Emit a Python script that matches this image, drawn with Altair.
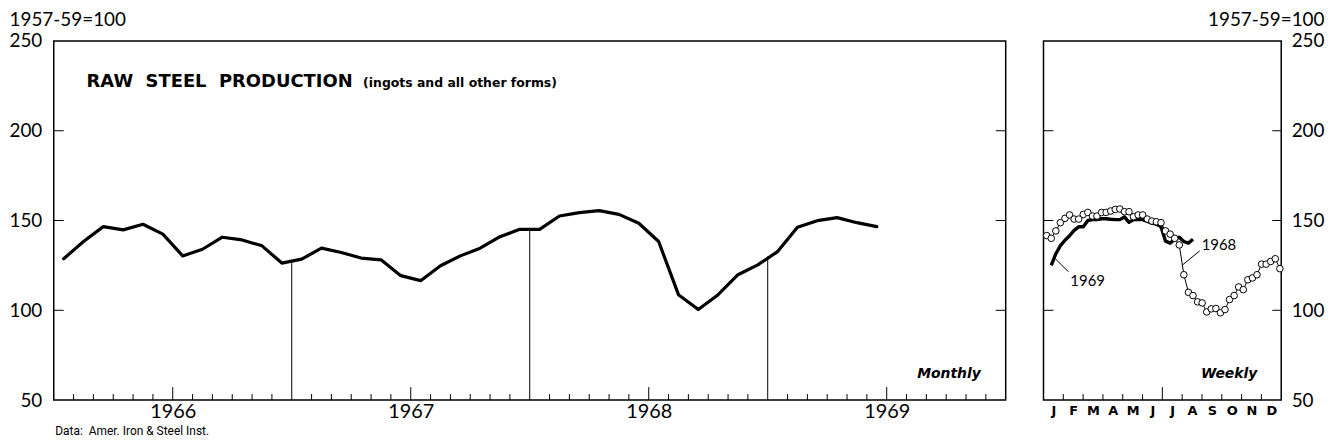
import altair as alt
import pandas as pd

FONT = "Lato"
BOLD = "DejaVu Sans"

# ---------------- data ----------------
years = [1966, 1967, 1968, 1969]
month_letters = ["J", "F", "M", "A", "M", "J", "J", "A", "S", "O", "N", "D"]

# Monthly index (1957-59 = 100), Jan 1966 .. Jun 1969
monthly_index = [
    128.7, 138.3, 146.6, 144.8, 147.9, 142.4, 130.3, 134.0, 140.7, 139.2, 135.9, 126.3,  # 1966
    128.5, 134.6, 132.2, 129.1, 128.1, 119.3, 116.5, 124.8, 130.3, 134.6, 141.0, 145.1,  # 1967
    145.1, 152.5, 154.4, 155.5, 153.4, 148.5, 138.3, 108.7, 100.4, 108.7, 119.8, 125.3,  # 1968
    132.7, 146.2, 149.9, 151.6, 148.8, 146.6,                                            # 1969
]
# year-start drop lines (January 1 of each year)
drop_year = [1967, 1968, 1969]
drop_top = [127.2, 145.1, 130.0]

# Weekly index
week_1968 = list(range(1, 53))
weekly_1968 = [
    141.6, 140.1, 144.2, 148.8, 151.2, 153.1, 150.8, 150.8, 153.4, 154.5,
    152.5, 152.5, 154.5, 154.5, 155.3, 156.2, 156.4, 154.9, 154.9, 152.1,
    153.1, 153.1, 150.8, 149.7, 149.3, 148.8, 144.2, 142.4, 140.1, 136.4,
    119.8, 110.0, 108.2, 104.7, 104.1, 99.1, 100.8, 101.0, 98.6, 100.4,
    106.0, 108.2, 113.0, 111.5, 117.0, 118.0, 119.8, 125.7, 125.7, 127.2,
    128.7, 123.2,
]
week_1969 = list(range(2, 34))
weekly_1969 = [
    125.0, 131.5, 136.0, 139.0, 141.5, 144.5, 146.5, 146.5, 150.0, 150.5,
    150.5, 151.0, 151.0, 150.7, 150.5, 150.5, 152.0, 149.0, 150.5, 150.5,
    150.5, 149.5, 148.5, 148.0, 146.5, 138.5, 137.4, 139.6, 140.7, 138.3,
    137.4, 139.6,
]

y_values = [50, 100, 150, 200, 250]
inner_y_ticks = [100, 150, 200]

# ---------------- layout ----------------
W1, W2, H = 957, 239, 361
Y0, Y1 = 50, 250
WEEK_OFFSET = 0.3  # weekly x-domain start (weeks)
NB = "\u00a0"

monthly_df = pd.DataFrame({
    "month": [f"{years[i // 12]}-{i % 12 + 1:02d}" for i in range(len(monthly_index))],
    "t": [i + 0.5 for i in range(len(monthly_index))],
    "v": monthly_index,
})
drop_df = pd.DataFrame({
    "t": [(y - years[0]) * 12 for y in drop_year],
    "v": [Y0] * len(drop_year),
    "top": drop_top,
})
mticks = [k for k in range(1, 48) if k % 12 != 0]
small_mt = pd.DataFrame({"t": [k for k in mticks if k % 12 != 6]})
tall_mt = pd.DataFrame({"t": [k for k in mticks if k % 12 == 6]})
yt_df = pd.DataFrame({"v": inner_y_ticks})

yscale = alt.Scale(domain=[Y0, Y1], nice=False, zero=False)
xs1 = alt.Scale(domain=[0, 48], nice=False, zero=False)

left_y_axis = alt.Axis(
    values=y_values, ticks=False, domain=False, grid=False,
    labelFontSize=19, labelPadding=12, labelFont=FONT, labelColor="black",
    title="1957-59=100", titleAngle=0, titleX=-45, titleY=-16,
    titleAlign="left", titleBaseline="alphabetic", titleFontSize=19,
    titleFontWeight="normal", titleFont=FONT, titleColor="black",
)
left_x_axis = alt.Axis(
    values=[6, 18, 30, 42], labelExpr="1966 + floor(datum.value / 12)",
    ticks=False, domain=False, grid=False, labelFontSize=20, labelPadding=2,
    labelFont=FONT, labelColor="black",
    title="Data:" + NB + NB + "Amer. Iron & Steel Inst.", titleX=1, titleY=35,
    titleAlign="left", titleBaseline="alphabetic", titleFontSize=12,
    titleFontWeight="normal", titleFont="Roboto", titleColor="black",
)

X1 = alt.X("t:Q", scale=xs1, axis=left_x_axis)
Yv1 = alt.Y("v:Q", scale=yscale, axis=left_y_axis)

line1 = alt.Chart(monthly_df).mark_line(
    color="black", strokeWidth=3.2, strokeJoin="round", strokeCap="round"
).encode(x=X1, y=Yv1)
drops = alt.Chart(drop_df).mark_rule(color="black", strokeWidth=1).encode(
    x=X1, y=Yv1, y2=alt.Y2("top:Q"),
)
st1 = alt.Chart(small_mt).mark_rule(color="black", strokeWidth=1).encode(
    x=X1, y=alt.value(H), y2=alt.value(H - 6))
tt1 = alt.Chart(tall_mt).mark_rule(color="black", strokeWidth=1).encode(
    x=X1, y=alt.value(H), y2=alt.value(H - 13))
ylt1 = alt.Chart(yt_df).mark_rule(color="black", strokeWidth=1).encode(
    y=Yv1, x=alt.value(0), x2=alt.value(10))
yrt1 = alt.Chart(yt_df).mark_rule(color="black", strokeWidth=1).encode(
    y=Yv1, x=alt.value(W1 - 10), x2=alt.value(W1))

def label(text, x, y, size, weight="bold", style="normal", font=BOLD, align="left"):
    return alt.Chart(pd.DataFrame({"txt": [text]})).mark_text(
        align=align, baseline="middle", fontSize=size, fontWeight=weight,
        fontStyle=style, font=font, color="black",
    ).encode(text="txt:N", x=alt.value(x), y=alt.value(y))

title1 = label("RAW" + NB + NB + "STEEL" + NB + NB + "PRODUCTION", 33, 41, 18)
title2 = label("(ingots and all other forms)", 311, 42, 12.5)
monthly_lbl = label("Monthly", 932, 335, 14, style="italic", align="right")

left = alt.layer(
    line1, drops, st1, tt1, ylt1, yrt1, title1, title2, monthly_lbl
).properties(width=W1, height=H)

# ---------------- weekly panel ----------------
xs2 = alt.Scale(domain=[WEEK_OFFSET, 52 + WEEK_OFFSET], nice=False, zero=False)
w68 = pd.DataFrame({"week": week_1968, "v": weekly_1968})
w69 = pd.DataFrame({"week": week_1969, "v": weekly_1969})
mb = [WEEK_OFFSET + 52 * k / 12 for k in range(1, 12)]
small_wt = pd.DataFrame({"week": [b for k, b in enumerate(mb, 1) if k != 6]})
tall_wt = pd.DataFrame({"week": [b for k, b in enumerate(mb, 1) if k == 6]})
mid_months = [WEEK_OFFSET + 52 * (k + 0.5) / 12 for k in range(12)]

right_y_axis = alt.Axis(
    orient="right", values=y_values, ticks=False, domain=False, grid=False,
    labelFontSize=19, labelPadding=10, labelFont=FONT, labelColor="black",
    title="1957-59=100", titleAngle=0, titleX=43, titleY=-16,
    titleAlign="right", titleBaseline="alphabetic", titleFontSize=19,
    titleFontWeight="normal", titleFont=FONT, titleColor="black",
)
week_x_axis = alt.Axis(
    values=mid_months,
    labelExpr="['J','F','M','A','M','J','J','A','S','O','N','D'][floor((datum.value - %s) * 12 / 52)]" % WEEK_OFFSET,
    ticks=False, domain=False, grid=False, labelFontSize=13, labelFontWeight="bold",
    labelFont=BOLD, labelPadding=5, labelColor="black", title=None,
)

X2 = alt.X("week:Q", scale=xs2, axis=week_x_axis)
Yv2 = alt.Y("v:Q", scale=yscale, axis=right_y_axis)

l68 = alt.Chart(w68).mark_line(color="black", strokeWidth=1).encode(x=X2, y=Yv2)
l69 = alt.Chart(w69).mark_line(
    color="black", strokeWidth=3.4, strokeJoin="round", strokeCap="butt"
).encode(x=X2, y=Yv2)
p68 = alt.Chart(w68).mark_point(
    shape="circle", filled=True, fill="white", stroke="black", strokeWidth=1,
    size=44, opacity=1,
).encode(x=X2, y=Yv2)
st2 = alt.Chart(small_wt).mark_rule(color="black", strokeWidth=1).encode(
    x=X2, y=alt.value(H), y2=alt.value(H - 6))
tt2 = alt.Chart(tall_wt).mark_rule(color="black", strokeWidth=1).encode(
    x=X2, y=alt.value(H), y2=alt.value(H - 13))
ylt2 = alt.Chart(yt_df).mark_rule(color="black", strokeWidth=1).encode(
    y=Yv2, x=alt.value(0), x2=alt.value(10))
yrt2 = alt.Chart(yt_df).mark_rule(color="black", strokeWidth=1).encode(
    y=Yv2, x=alt.value(W2 - 9), x2=alt.value(W2))

lbl68 = label("1968", 159, 205, 15, weight="normal", font=FONT)
lead68 = alt.Chart(pd.DataFrame({"a": [0]})).mark_rule(color="black", strokeWidth=1).encode(
    x=alt.value(157), x2=alt.value(140), y=alt.value(211), y2=alt.value(225))
lbl69 = label("1969", 27, 241, 15, weight="normal", font=FONT)
lead69 = alt.Chart(pd.DataFrame({"a": [0]})).mark_rule(color="black", strokeWidth=1).encode(
    x=alt.value(25), x2=alt.value(12), y=alt.value(232), y2=alt.value(219))
weekly_lbl = label("Weekly", 215, 335, 14, style="italic", align="right")

right = alt.layer(
    l68, st2, tt2, ylt2, yrt2, l69, p68, lead68, lbl68, lead69, lbl69, weekly_lbl
).properties(width=W2, height=H)

chart = alt.hconcat(left, right, spacing=33).properties(
    padding={"left": 0, "top": 0, "right": 0, "bottom": 0}
).configure(
    font=FONT, background="white"
).configure_view(
    stroke="black", strokeWidth=1.5
)

chart.save("out.html", embed_options={"renderer": "svg", "actions": False})
